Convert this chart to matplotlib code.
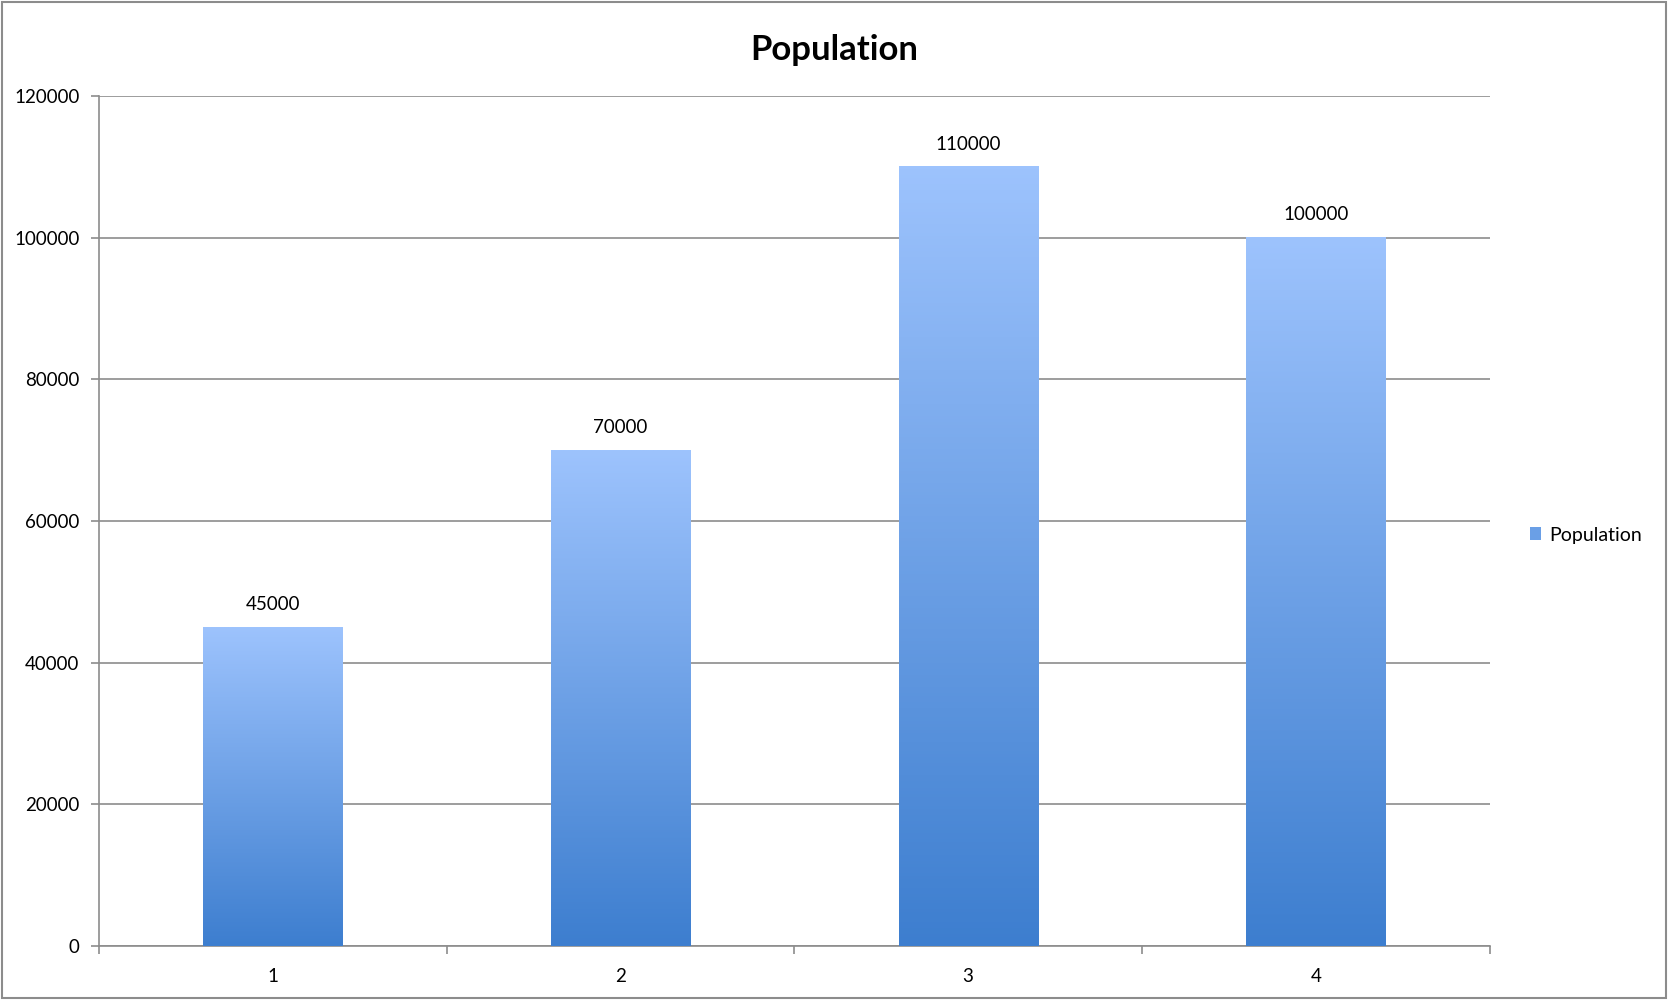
import numpy as np
import matplotlib.pyplot as plt
from matplotlib.colors import LinearSegmentedColormap
from matplotlib.patches import Rectangle

plt.rcParams['font.family'] = ['Lato', 'DejaVu Sans']

categories = ['1', '2', '3', '4']
population = [45000, 70000, 110000, 100000]
y_ticks = [0, 20000, 40000, 60000, 80000, 100000, 120000]

fig = plt.figure(figsize=(16.68, 10), dpi=100)
ax = fig.add_axes([0.0594, 0.054, 0.8336, 0.850])

# gradient: dark at bottom, light at top
cmap = LinearSegmentedColormap.from_list('bar_grad', ['#3D7ECF', '#9DC3FD'])
grad = np.linspace(0, 1, 256).reshape(-1, 1)

x = np.arange(len(categories))
width = 0.4
for xi, val in zip(x, population):
    ax.imshow(grad, extent=(xi - width / 2, xi + width / 2, 0, val), origin='lower',
              cmap=cmap, aspect='auto', zorder=3)
    ax.text(xi, val + 2000, f'{val}', ha='center', va='bottom', fontsize=13.5, zorder=4)

ax.set_xlim(-0.5, len(categories) - 0.5)
ax.set_ylim(0, 120000)
ax.set_yticks(y_ticks)
ax.set_yticklabels([str(t) for t in y_ticks], fontsize=13.5)
ax.yaxis.grid(True, color='#8c8c8c', linewidth=1.2, zorder=0)
ax.set_axisbelow(True)

ax.set_xticks(x)
ax.set_xticklabels(categories, fontsize=13.5)
ax.set_xticks(np.arange(len(categories) + 1) - 0.5, minor=True)
ax.tick_params(axis='x', which='major', length=0, pad=16)
ax.tick_params(axis='x', which='minor', length=6, direction='out', color='#8c8c8c', width=1.2)
ax.tick_params(axis='y', length=6, direction='out', color='#8c8c8c', width=1.2, pad=8)

for side in ['top', 'right']:
    ax.spines[side].set_visible(False)
for side in ['left', 'bottom']:
    ax.spines[side].set_color('#8c8c8c')
    ax.spines[side].set_linewidth(1.2)

fig.text(0.5, 0.950, 'Population', ha='center', va='center', fontsize=25, fontweight='bold')

# legend
handle = Rectangle((0, 0), 1, 1, facecolor='#6A9FE6', edgecolor='none')
fig.legend([handle], ['Population'], loc='center left', bbox_to_anchor=(0.917, 0.465),
           frameon=False, fontsize=14, handlelength=0.6, handleheight=0.6, handletextpad=0.4,
           borderaxespad=0, borderpad=0)

# outer border
fig.add_artist(Rectangle((0.001, 0.002), 0.998, 0.996, transform=fig.transFigure,
                         fill=False, edgecolor='#8c8c8c', linewidth=1.5))

fig.savefig('out.png', dpi=100)
